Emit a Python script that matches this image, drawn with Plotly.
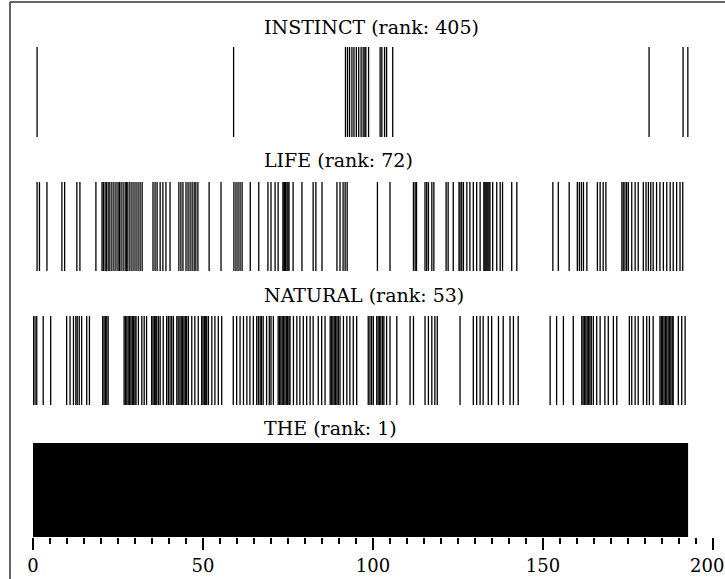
import plotly.graph_objects as go
from plotly.subplots import make_subplots

# ---------------- data: occurrence positions of each word ----------------
words = ["INSTINCT", "LIFE", "NATURAL", "THE"]
ranks = [405, 72, 53, 1]

instinct_pos = [1.2, 59.0, 91.9, 92.5, 93.1, 93.8, 94.4, 95.1, 95.8, 96.5, 97.1,
                97.6, 97.9, 98.7, 102.1, 102.6, 103.4, 104.0, 105.8, 181.2,
                191.2, 192.6]

life_pos = [1.2, 1.9, 4.1, 8.5, 9.3, 12.9, 13.8, 18.5, 20.3, 20.7, 21.2, 21.6,
            22.1, 22.6, 23.2, 23.8, 24.4, 25.0, 25.4, 25.9, 26.5, 27.1, 27.5,
            27.9, 28.5, 29.1, 29.7, 30.3, 30.9, 31.5, 32.1, 35.3, 35.9, 36.5,
            37.4, 38.2, 39.1, 40.3, 42.9, 43.5, 44.1, 45.0, 45.6, 46.2, 46.8,
            47.4, 47.9, 48.5, 51.8, 55.3, 59.1, 59.7, 60.3, 60.9, 61.5, 63.9,
            66.4, 69.1, 70.0, 71.2, 72.1, 73.5, 73.8, 74.0, 74.3, 74.7, 75.0,
            75.3, 76.5, 79.1, 82.4, 83.2, 85.0, 89.4, 90.3, 91.2, 91.8, 92.4,
            101.3, 105.0, 111.9, 112.4, 112.8, 115.3, 115.8, 116.3, 117.3,
            117.9, 121.5, 122.1, 123.6, 125.3, 125.6, 126.1, 126.6, 127.6,
            128.5, 129.5, 130.5, 131.5, 132.6, 132.9, 133.2, 133.5, 133.8,
            134.1, 134.4, 135.2, 136.4, 137.4, 138.1, 140.8, 142.3, 152.9,
            154.5, 157.7, 160.1, 160.7, 161.3, 161.9, 162.9, 166.0, 166.8,
            167.7, 168.5, 173.2, 173.6, 174.1, 174.6, 175.1, 176.1, 177.1,
            178.0, 179.5, 180.3, 181.0, 181.7, 182.4, 183.4, 184.4, 185.4,
            186.4, 187.4, 188.3, 189.3, 190.3, 191.1]

natural_pos = [0.1, 0.6, 1.1, 3.0, 5.2, 9.9, 10.9, 11.9, 12.6, 13.0, 13.6, 14.3,
               15.8, 16.6, 20.5, 20.9, 21.3, 21.7, 22.1, 26.8, 27.2, 27.6, 28.0,
               28.4, 28.8, 29.2, 29.6, 30.0, 30.3, 31.0, 32.0, 32.7, 33.4, 34.9,
               35.3, 35.7, 36.1, 36.4, 36.9, 37.4, 38.3, 39.3, 39.8, 40.3, 40.8,
               41.3, 42.3, 42.7, 43.2, 43.6, 44.0, 44.4, 44.8, 45.2, 45.7, 46.7,
               47.6, 48.6, 49.6, 50.0, 50.4, 50.8, 51.1, 51.6, 52.6, 53.5, 54.5,
               55.5, 58.9, 59.9, 60.9, 61.9, 62.9, 63.8, 64.8, 65.8, 66.3, 66.8,
               67.2, 67.7, 68.7, 69.5, 70.0, 70.7, 72.1, 72.5, 72.9, 73.3, 73.7,
               74.1, 74.5, 74.9, 75.3, 75.6, 76.6, 77.6, 78.5, 79.5, 80.5, 81.5,
               82.4, 83.9, 84.9, 85.9, 87.4, 87.8, 88.2, 88.6, 89.0, 89.4, 89.8,
               90.3, 91.3, 92.3, 93.2, 94.2, 95.2, 98.6, 99.1, 99.6, 100.1,
               101.1, 101.5, 101.9, 102.3, 102.8, 103.2, 104.0, 105.0, 107.0,
               110.9, 111.9, 115.3, 116.3, 117.3, 118.2, 118.9, 125.6, 129.5,
               130.5, 131.5, 132.4, 133.9, 134.9, 136.9, 138.3, 140.3, 141.3,
               142.7, 152.1, 154.0, 156.0, 158.9, 161.4, 161.8, 162.2, 162.6,
               163.0, 163.4, 163.8, 164.2, 164.8, 165.8, 166.8, 168.2, 169.2,
               170.7, 171.7, 175.4, 176.1, 177.1, 178.0, 179.5, 180.5, 181.3,
               182.4, 184.4, 184.8, 185.2, 185.6, 186.0, 186.4, 186.8, 187.2,
               187.6, 188.0, 188.3, 189.8, 190.8, 191.8]

the_pos = [0, 1, 2, 3, 4, 5, 6, 7, 8, 9, 10, 11, 12, 13, 14, 15, 16, 17, 18, 19,
           20, 21, 22, 23, 24, 25, 26, 27, 28, 29, 30, 31, 32, 33, 34, 35, 36,
           37, 38, 39, 40, 41, 42, 43, 44, 45, 46, 47, 48, 49, 50, 51, 52, 53,
           54, 55, 56, 57, 58, 59, 60, 61, 62, 63, 64, 65, 66, 67, 68, 69, 70,
           71, 72, 73, 74, 75, 76, 77, 78, 79, 80, 81, 82, 83, 84, 85, 86, 87,
           88, 89, 90, 91, 92, 93, 94, 95, 96, 97, 98, 99, 100, 101, 102, 103,
           104, 105, 106, 107, 108, 109, 110, 111, 112, 113, 114, 115, 116, 117,
           118, 119, 120, 121, 122, 123, 124, 125, 126, 127, 128, 129, 130, 131,
           132, 133, 134, 135, 136, 137, 138, 139, 140, 141, 142, 143, 144, 145,
           146, 147, 148, 149, 150, 151, 152, 153, 154, 155, 156, 157, 158, 159,
           160, 161, 162, 163, 164, 165, 166, 167, 168, 169, 170, 171, 172, 173,
           174, 175, 176, 177, 178, 179, 180, 181, 182, 183, 184, 185, 186, 187,
           188, 189, 190, 191, 192]

x_tick_vals = [0, 50, 100, 150, 200]
x_tick_text = ["0", "50", "100", "150", "200"]

series = [instinct_pos, life_pos, natural_pos, the_pos]
line_widths = [1.3, 1.3, 1.3, 4.6]

# ---------------- layout geometry ----------------
W, H = 725, 579
ML, MR, MT, MB = 33, 12, 47, 42
plot_h = H - MT - MB
# panel pixel extents (top, bottom)
panels_px = [(47, 137), (182, 271), (316, 405), (443, 537)]
title_px = [27, 160, 295, 428]


def py(p):
    return (H - MB - p) / plot_h


def px(p):
    return (p - ML) / (W - ML - MR)


fig = make_subplots(rows=4, cols=1)

for i, pos in enumerate(series):
    xs, ys = [], []
    for p in pos:
        xs += [p, p, None]
        ys += [0, 1, None]
    fig.add_trace(
        go.Scatter(x=xs, y=ys, mode="lines",
                   line=dict(color="black", width=line_widths[i]),
                   hoverinfo="skip", showlegend=False),
        row=i + 1, col=1)

FONT = "DejaVu Serif"
TICK_SIZE = 18

for i in range(4):
    n = "" if i == 0 else str(i + 1)
    top, bot = panels_px[i]
    fig.layout["yaxis" + n].update(domain=[py(bot), py(top)], range=[0, 1],
                                   visible=False, fixedrange=True)
    fig.layout["xaxis" + n].update(range=[0, 200], visible=(i == 3),
                                   showgrid=False, zeroline=False,
                                   showline=False, automargin=False)
    fig.add_annotation(x=px(262), y=py(title_px[i]), xref="paper",
                       yref="paper", xanchor="left", yanchor="middle",
                       text=f"{words[i]} (rank: {ranks[i]})", showarrow=False,
                       font=dict(family=FONT, size=19, color="black"))

# last tick label sits at the page edge: draw it nudged left so it stays whole
shown_text = x_tick_text[:-1] + [""]
fig.update_xaxes(row=4, col=1, tickmode="array", tickvals=x_tick_vals,
                 ticktext=shown_text, ticks="outside", ticklen=12,
                 tickwidth=2, tickcolor="black",
                 tickfont=dict(family=FONT, size=TICK_SIZE, color="black"),
                 minor=dict(dtick=5, ticks="outside", ticklen=6, tickwidth=1.5,
                            tickcolor="black", showgrid=False))
fig.add_annotation(x=x_tick_vals[-1], y=py(565), xref="x4", yref="paper",
                   xanchor="center", yanchor="middle", xshift=-6,
                   text=x_tick_text[-1], showarrow=False,
                   font=dict(family=FONT, size=TICK_SIZE, color="black"))

# frame lines (left and top border)
fig.add_shape(type="line", xref="paper", yref="paper",
              x0=px(10), x1=px(10), y0=py(2), y1=py(H + 5),
              line=dict(color="#333333", width=1.5))
fig.add_shape(type="line", xref="paper", yref="paper",
              x0=px(10), x1=px(W + 5), y0=py(2), y1=py(2),
              line=dict(color="#333333", width=1.5))

fig.update_layout(width=W, height=H,
                  margin=dict(l=ML, r=MR, t=MT, b=MB, autoexpand=False),
                  paper_bgcolor="white", plot_bgcolor="white")

fig.write_html("out.html", config={"displayModeBar": False},
               post_script="document.body.style.margin='0px';"
                           "document.body.style.overflow='hidden';")
